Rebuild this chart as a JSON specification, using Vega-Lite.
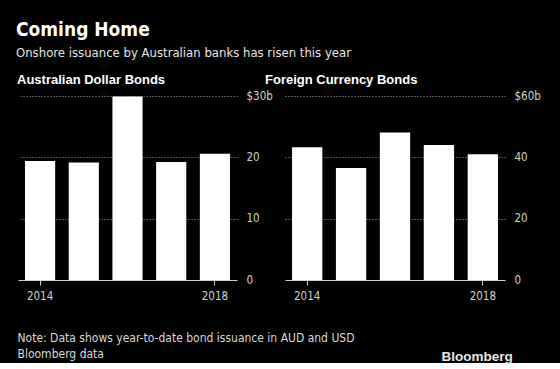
{
  "$schema": "https://vega.github.io/schema/vega-lite/v6.json",
  "background": "black",
  "padding": {"left": 16, "top": 21, "right": 24, "bottom": 0},
  "bounds": "flush",
  "spacing": 48,
  "title": {
    "text": "Coming Home",
    "subtitle": "Onshore issuance by Australian banks has risen this year",
    "anchor": "start",
    "frame": "bounds",
    "dx": -1,
    "font": "DejaVu Sans Condensed, sans-serif",
    "fontSize": 19,
    "fontWeight": "bold",
    "color": "white",
    "subtitleFont": "DejaVu Sans Condensed, sans-serif",
    "subtitleFontSize": 13,
    "subtitleColor": "#e6e6e6",
    "subtitlePadding": 7,
    "offset": 14
  },
  "datasets": {
    "aud": [
      {"year": "2014", "value": 19.4},
      {"year": "2015", "value": 19.15},
      {"year": "2016", "value": 29.9},
      {"year": "2017", "value": 19.25},
      {"year": "2018", "value": 20.6}
    ],
    "fx": [
      {"year": "2014", "value": 43.3},
      {"year": "2015", "value": 36.5},
      {"year": "2016", "value": 48.1},
      {"year": "2017", "value": 44.0},
      {"year": "2018", "value": 41.0}
    ]
  },
  "config": {
    "view": {"stroke": null},
    "font": "DejaVu Sans Condensed, sans-serif",
    "title": {"anchor": "start", "color": "white", "fontSize": 13, "fontWeight": "bold", "offset": 3, "font": "Liberation Sans, sans-serif"},
    "axis": {
      "labelColor": "#d0d0d0",
      "labelFontSize": 11.5,
      "labelFont": "DejaVu Sans Condensed, sans-serif",
      "gridColor": "#9a9a9a",
      "gridDash": [1, 2],
      "gridWidth": 1,
      "domainColor": "#cfcfcf",
      "tickColor": "#cfcfcf"
    }
  },
  "hconcat": [
    {
      "width": 219,
      "height": 184,
      "title": "Australian Dollar Bonds",
      "data": {"name": "aud"},
      "mark": {"type": "bar", "color": "white"},
      "encoding": {
        "x": {
          "field": "year",
          "type": "nominal",
          "scale": {"paddingInner": 0.31, "paddingOuter": 0.16},
          "axis": {
            "values": ["2014", "2018"],
            "labelAngle": 0,
            "tickSize": 5,
            "labelPadding": 5,
            "domainWidth": 1,
            "title": ["Note: Data shows year-to-date bond issuance in AUD and USD", "Bloomberg data"],
            "titleAnchor": "start",
            "titleAlign": "left",
            "titleX": -1,
            "titleY": 61,
            "titleBaseline": "alphabetic",
            "titleFont": "DejaVu Sans Condensed, sans-serif",
            "titleFontSize": 12,
            "titleFontWeight": "normal",
            "titleColor": "#d8d8d8",
            "titleLineHeight": 16
          }
        },
        "y": {
          "field": "value",
          "type": "quantitative",
          "scale": {"domain": [0, 30]},
          "axis": {
            "orient": "right",
            "values": [0, 10, 20, 30],
            "labelExpr": "datum.value == 30 ? '$30b' : datum.label",
            "domain": false,
            "ticks": false,
            "labelPadding": 9,
            "title": null,
            "gridOpacity": {"condition": {"test": "datum.value == 0", "value": 0}, "value": 1}
          }
        }
      }
    },
    {
      "width": 220,
      "height": 184,
      "title": {"text": "Foreign Currency Bonds", "dx": -20},
      "data": {"name": "fx"},
      "mark": {"type": "bar", "color": "white"},
      "encoding": {
        "x": {
          "field": "year",
          "type": "nominal",
          "scale": {"paddingInner": 0.31, "paddingOuter": 0.16},
          "axis": {
            "values": ["2014", "2018"],
            "labelAngle": 0,
            "tickSize": 5,
            "labelPadding": 5,
            "title": "Bloomberg",
            "titleAnchor": "start",
            "titleAlign": "left",
            "titleX": 156,
            "titleY": 80,
            "titleBaseline": "alphabetic",
            "titleFont": "Liberation Sans, sans-serif",
            "titleFontSize": 13.5,
            "titleFontWeight": "bold",
            "titleColor": "#e6e6e6"
          }
        },
        "y": {
          "field": "value",
          "type": "quantitative",
          "scale": {"domain": [0, 60]},
          "axis": {
            "orient": "right",
            "values": [0, 20, 40, 60],
            "labelExpr": "datum.value == 60 ? '$60b' : datum.label",
            "domain": false,
            "ticks": false,
            "labelPadding": 9,
            "title": null,
            "gridOpacity": {"condition": {"test": "datum.value == 0", "value": 0}, "value": 1}
          }
        }
      }
    }
  ]
}
